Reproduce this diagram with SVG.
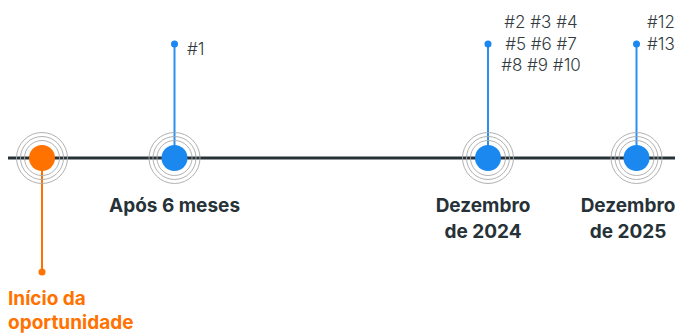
<svg xmlns="http://www.w3.org/2000/svg" width="675" height="334" viewBox="0 0 675 334">
<style>
.ring{fill:none;stroke:#a8a8a8;stroke-width:0.9}
.num{font-family:Inter,"Open Sans",sans-serif;font-size:17px;fill:#333a40;font-weight:300}
.lbl{font-family:Inter,"Open Sans",sans-serif;font-size:19px;font-weight:700;fill:#263238;text-anchor:middle}
.org{font-family:Inter,"Open Sans",sans-serif;font-size:19px;font-weight:700;fill:#ff7200}
.bstem{stroke:#2b8ff0;stroke-width:2}
</style>
<defs>
<g id="rings">
<circle class="ring" r="17.5"/>
<circle class="ring" r="21.5"/>
<circle class="ring" r="25.5"/>
</g>
</defs>
<g id="connectors">
<line x1="8" y1="158" x2="675" y2="158" stroke="#263238" stroke-width="3"/>
<line x1="42" y1="158" x2="42" y2="272" stroke="#ff7200" stroke-width="2"/>
<circle cx="42" cy="272" r="3.5" fill="#ff7200"/>
<line class="bstem" x1="174.5" y1="44" x2="174.5" y2="158"/>
<circle cx="174.5" cy="44" r="3.5" fill="#1a88ee"/>
<line class="bstem" x1="488" y1="44" x2="488" y2="158"/>
<circle cx="488" cy="44" r="3.5" fill="#1a88ee"/>
<line class="bstem" x1="636.5" y1="44" x2="636.5" y2="158"/>
<circle cx="636.5" cy="44" r="3.5" fill="#1a88ee"/>
</g>
<g id="node-inicio">
<use href="#rings" x="42" y="158"/>
<circle cx="42" cy="158" r="13" fill="#ff7200"/>
<text class="org" x="8" y="305">Início da</text>
<text class="org" x="8" y="329">oportunidade</text>
</g>
<g id="node-6meses">
<use href="#rings" x="174.5" y="158"/>
<circle cx="174.5" cy="158" r="13" fill="#1a88ee"/>
<text class="lbl" x="174.5" y="212">Após 6 meses</text>
<text class="num" x="187" y="55">#1</text>
</g>
<g id="node-dez2024">
<use href="#rings" x="488" y="158"/>
<circle cx="488" cy="158" r="13" fill="#1a88ee"/>
<text class="lbl" x="483" y="212">Dezembro</text>
<text class="lbl" x="483" y="238">de 2024</text>
<text class="num" x="541" y="28" text-anchor="middle">#2 #3 #4</text>
<text class="num" x="541" y="50" text-anchor="middle">#5 #6 #7</text>
<text class="num" x="541" y="71" text-anchor="middle">#8 #9 #10</text>
</g>
<g id="node-dez2025">
<use href="#rings" x="636.5" y="158"/>
<circle cx="636.5" cy="158" r="13" fill="#1a88ee"/>
<text class="lbl" x="628" y="212">Dezembro</text>
<text class="lbl" x="628" y="238">de 2025</text>
<text class="num" x="647" y="28">#12</text>
<text class="num" x="647" y="50">#13</text>
</g>
</svg>
